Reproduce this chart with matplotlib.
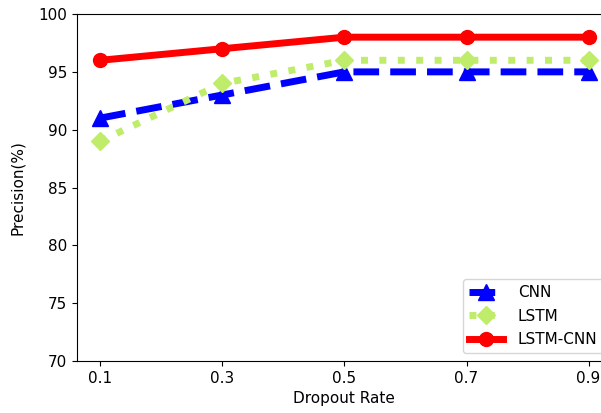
import matplotlib
matplotlib.use("Agg")
import matplotlib.pyplot as plt

rates = [0.1, 0.3, 0.5, 0.7, 0.9]
cnn = [91, 93, 95, 95, 95]
lstm = [89, 94, 96, 96, 96]
lstm_cnn = [96, 97, 98, 98, 98]

fig = plt.figure(figsize=(6.01, 4.13), dpi=100)
# the right edge of the axes runs past the picture, as in the source image
ax = fig.add_axes([0.128, 0.126, 0.889, 0.840])

ax.plot(rates, cnn, color='blue', linestyle='--', linewidth=5, marker='^',
        markersize=11, label='CNN')
ax.plot(rates, lstm, color='#c0ec6c', linestyle=':', linewidth=5, marker='D',
        markersize=9, label='LSTM')
ax.plot(rates, lstm_cnn, color='red', linestyle='-', linewidth=5, marker='o',
        markersize=10, label='LSTM-CNN')

ax.set_xlim(0.062, 0.937)
ax.set_ylim(70, 100)
ax.set_xticks(rates)
ax.set_xticklabels([str(r) for r in rates])
ax.tick_params(labelsize=11)
ax.set_xlabel('Dropout Rate', fontsize=11)
ax.set_ylabel('Precision(%)', fontsize=11)
ax.yaxis.set_label_coords(-0.097, 0.5)
ax.legend(loc='lower right', fontsize=11, handlelength=2.2,
          handletextpad=1.0, labelspacing=0.55)

fig.savefig('out.png', dpi=100)
